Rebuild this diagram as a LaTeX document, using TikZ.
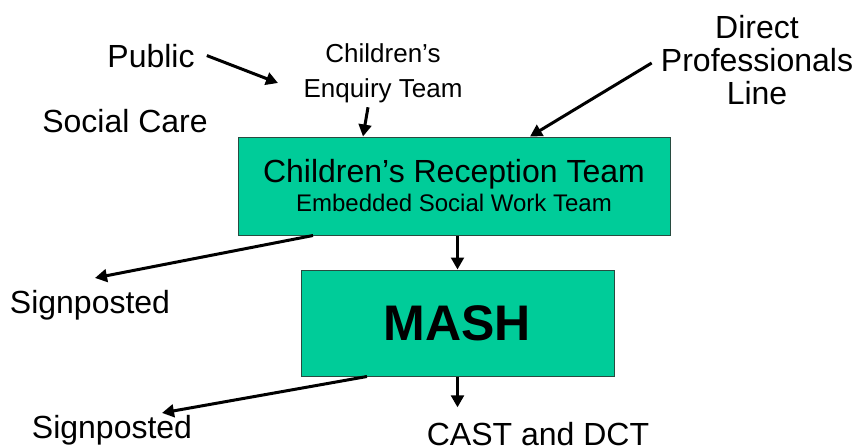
\documentclass[tikz,border=0pt]{standalone}
\usepackage{fontspec}
\setmainfont{Liberation Sans}
\usetikzlibrary{arrows.meta}
\definecolor{teamGreen}{RGB}{0,204,153}
\definecolor{teamEdge}{RGB}{40,75,64}

\begin{document}
\begin{tikzpicture}[%%
  x=0.75pt,y=-0.75pt,%%
  arrowDecorate/.style={%%
    -{Triangle[length=9pt,width=9.5pt]},line width=2.25pt%%
  },%%
  boxDecorate/.style={%%
    draw=teamEdge,fill=teamGreen,line width=0.75pt,inner sep=0pt,align=center%%
  },%%
  labelDecorate/.style={inner sep=0pt,anchor=base,font=\fontsize{24}{25}\selectfont},%%
  blockDecorate/.style={inner sep=0pt,align=center,font=\fontsize{24}{25}\selectfont}%%
]
%%
%% Global variables.
\pgfmathsetmacro{\W}{857}
\pgfmathsetmacro{\H}{447}
\useasboundingbox (0,0) rectangle (\W,\H);
%%
%% Sources at the top.
\node[labelDecorate] (public) at (151,67) {Public};
\node[labelDecorate] (social) at (125,132) {Social Care};
\node[blockDecorate,font=\fontsize{19.5}{26}\selectfont] (cet) at (383,73)
  {Children’s\\Enquiry Team};
\node[blockDecorate] (dpl) at (757,60) {Direct\\Professionals\\Line};
\coordinate (publicTip) at (278,83);
%%
%% Reception team.
\node[boxDecorate,minimum width=324pt,minimum height=73.5pt,%%
  font=\fontsize{24}{25}\selectfont] (crt) at (454,186)
  {Children’s Reception Team\\[-3.25pt]%%
   {\fontsize{18}{20}\selectfont Embedded Social Work Team}};
%%
%% MASH.
\node[boxDecorate,minimum width=234.75pt,minimum height=79.5pt,%%
  font=\fontsize{37.5}{40}\selectfont\bfseries] (mash) at (457.5,323) {MASH};
%%
%% Outcomes.
\node[labelDecorate] (signA) at (90,313) {Signposted};
\node[labelDecorate] (signB) at (112,438) {Signposted};
\node[labelDecorate] (cast) at (538,445.5) {CAST and DCT};
%%
%% Arrows into the reception team.
\draw[arrowDecorate] ([xshift=9pt]public.east) -- (publicTip);
\draw[arrowDecorate] ([xshift=-11.25pt,yshift=-3.4pt]cet.south)
  -- ([xshift=-68.25pt]crt.north);
\draw[arrowDecorate] ([xshift=-6.75pt,yshift=-2.25pt]dpl.west)
  -- ([xshift=57pt]crt.north);
%%
%% Arrows out of the reception team.
\draw[arrowDecorate] ([xshift=-105.75pt]crt.south)
  -- ([xshift=3.75pt,yshift=8.7pt]signA.north);
\draw[arrowDecorate] (crt.south -| mash.north) -- (mash.north);
%%
%% Arrows out of MASH.
\draw[arrowDecorate] ([xshift=-67.9pt]mash.south)
  -- ([xshift=37.5pt,yshift=1.2pt]signB.north);
\draw[arrowDecorate,shorten >=11pt] (mash.south) -- (mash.south |- cast.north);
\end{tikzpicture}
\end{document}
